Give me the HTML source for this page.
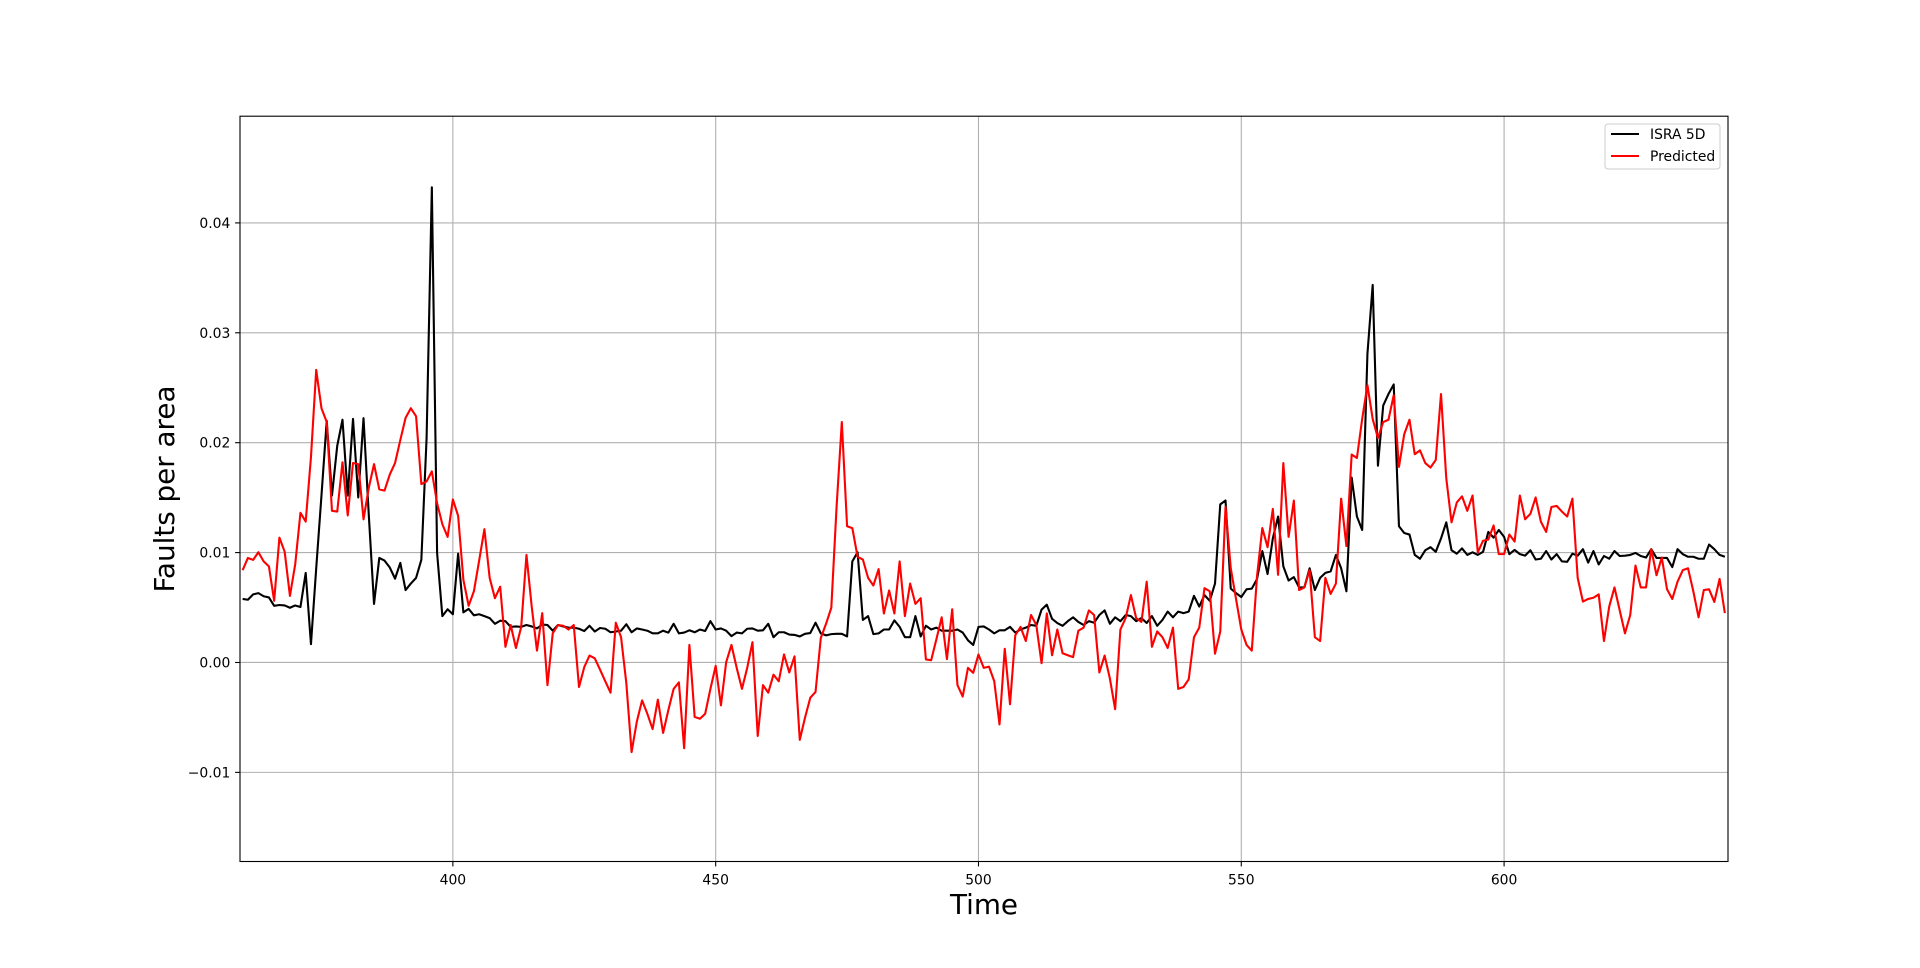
<!DOCTYPE html>
<html><head><meta charset="utf-8"><title>Faults per area</title>
<style>
html,body{margin:0;padding:0;background:#fff;}
svg{display:block;font-family:"DejaVu Sans","Liberation Sans",sans-serif;}
</style></head>
<body>
<svg id="chart" width="1920" height="968" viewBox="0 0 1920 968">
  <defs><clipPath id="plotclip"><rect x="240" y="116.2" width="1488" height="745.3"/></clipPath></defs>
  <rect x="0" y="0" width="1920" height="968" fill="#fff"/>
  <g id="grid"></g>
  <g id="series" clip-path="url(#plotclip)"></g>
  <rect x="240" y="116.2" width="1488" height="745.3" fill="none" stroke="#000" stroke-width="1.1"/>
  <g id="xticks"></g>
  <g id="yticks"></g>
  <text x="984" y="914" font-size="27.8" text-anchor="middle">Time</text>
  <text transform="translate(174,489) rotate(-90)" font-size="27.8" text-anchor="middle">Faults per area</text>
  <g>
    <rect x="1605" y="124" width="115" height="45" rx="3" fill="#fff" fill-opacity="0.8" stroke="#ccc" stroke-width="1"/>
    <line x1="1611" y1="134" x2="1639" y2="134" stroke="#000" stroke-width="2.1"/>
    <text x="1650" y="139" font-size="13.9">ISRA 5D</text>
    <line x1="1611" y1="156" x2="1639" y2="156" stroke="#ff0000" stroke-width="2.1"/>
    <text x="1650" y="161" font-size="13.9">Predicted</text>
  </g>
</svg>
<script>
const startTime = 360;
const xTicks = [400, 450, 500, 550, 600];
const yTicks = [-0.01, 0.00, 0.01, 0.02, 0.03, 0.04];
const yTickLabels = ["\u22120.01", "0.00", "0.01", "0.02", "0.03", "0.04"];
// values in units of 0.001
const israValues = [
5.78,5.71,6.20,6.31,6.03,5.92,5.16,5.23,5.19,4.98,5.19,5.05,8.15,1.67,8.57,15.19,21.99,15.19,19.72,22.09,
15.19,22.16,15.02,22.23,13.45,5.33,9.51,9.27,8.64,7.63,9.06,6.59,7.18,7.70,9.34,20.42,43.24,9.97,4.22,4.84,
4.39,9.90,4.56,4.88,4.29,4.39,4.22,4.04,3.52,3.80,3.76,3.24,3.28,3.24,3.41,3.28,3.10,3.45,3.41,2.89,
3.41,3.28,3.17,3.17,3.07,2.86,3.34,2.82,3.14,3.07,2.75,2.82,
2.89,3.48,2.75,3.10,3.00,2.89,2.65,2.65,2.89,2.72,3.52,2.65,2.72,2.93,2.75,3.00,2.86,3.76,3.00,3.10,
2.89,2.40,2.72,2.65,3.07,3.10,2.89,2.93,3.52,2.30,2.75,2.75,2.54,2.51,2.37,2.61,2.68,3.62,2.65,2.47,
2.58,2.61,2.61,2.37,9.20,10.03,3.87,4.22,2.58,2.65,3.00,3.00,3.83,3.24,2.30,2.30,4.22,2.37,3.34,3.00,
3.17,2.89,2.89,2.89,3.00,2.72,2.02,1.60,3.24,3.28,
3.00,2.65,2.93,2.93,3.24,2.72,3.00,3.17,3.41,3.34,4.81,5.26,3.97,3.59,3.34,3.76,4.11,3.69,3.41,3.76,
3.62,4.32,4.74,3.52,4.11,3.76,4.32,4.22,3.76,4.04,3.59,4.22,3.34,3.87,4.63,4.11,4.63,4.49,4.63,6.06,
5.09,6.13,5.61,7.18,14.39,14.74,6.72,6.31,5.96,6.66,6.72,7.60,10.14,8.05,11.29,13.28,8.75,7.46,7.77,6.83,
6.83,8.57,6.59,7.70,8.15,8.29,9.79,8.57,6.48,16.83,13.28,
12.06,28.08,34.36,17.91,23.38,24.43,25.30,12.40,11.78,11.64,9.79,9.44,10.21,10.49,10.07,11.29,12.75,10.21,9.90,10.38,
9.79,10.03,9.79,10.07,11.88,11.36,12.06,11.43,9.86,10.24,9.86,9.72,10.21,9.37,9.44,10.14,9.37,9.86,9.20,9.16,
9.90,9.72,10.31,9.09,10.14,8.92,9.69,9.44,10.14,9.69,9.72,9.79,9.97,9.69,9.55,10.31,9.51,9.51,9.51,8.68,
10.31,9.86,9.62,9.62,9.44,9.44,10.73,10.31,9.79,9.62];
const predictedValues = [
8.40,9.51,9.34,10.03,9.20,8.75,5.61,11.36,10.07,6.06,8.92,13.62,12.82,18.68,26.62,23.14,21.88,13.80,13.73,18.22,
13.38,18.15,18.05,13.03,15.89,18.05,15.75,15.64,17.11,18.15,20.24,22.26,23.14,22.40,16.24,16.48,17.39,14.49,12.58,11.43,
14.84,13.34,7.53,5.16,6.48,9.27,12.13,7.70,5.85,6.90,1.43,3.41,1.32,3.24,9.79,5.09,1.08,4.49,-2.06,2.65,
3.41,3.34,3.00,3.41,-2.23,-0.42,0.63,0.38,-0.66,-1.71,-2.75,3.62,
2.30,-1.88,-8.15,-5.37,-3.45,-4.67,-6.06,-3.38,-6.41,-4.32,-2.40,-1.81,-7.80,1.60,-4.95,-5.12,-4.67,-2.40,-0.31,-3.90,
0.03,1.60,-0.49,-2.40,-0.49,1.85,-6.69,-2.06,-2.75,-1.11,-1.71,0.73,-0.91,0.56,-7.04,-5.02,-3.21,-2.68,2.23,3.52,
4.98,14.15,21.88,12.40,12.23,9.62,9.37,7.70,7.00,8.50,4.46,6.55,4.46,9.20,4.22,7.18,5.33,5.85,0.28,0.21,
2.13,4.11,0.31,4.84,-2.06,-3.10,-0.49,-0.94,0.73,-0.49,
-0.38,-1.71,-5.64,1.25,-3.80,2.47,3.24,1.95,4.32,3.41,-0.07,4.46,0.66,3.00,0.84,0.66,0.49,2.89,3.17,4.74,
4.32,-0.91,0.63,-1.46,-4.25,3.00,4.04,6.13,4.04,3.69,7.35,1.43,2.82,2.30,1.32,3.17,-2.40,-2.23,-1.53,2.30,
3.17,6.76,6.48,0.80,2.82,14.15,8.57,5.78,3.00,1.60,1.08,7.87,12.23,10.49,13.97,7.98,18.15,11.43,14.74,6.59,
6.83,8.40,2.30,1.95,7.70,6.24,7.18,14.91,10.59,18.92,18.61,
22.16,25.23,22.16,20.42,21.88,22.09,24.32,17.80,20.77,22.09,18.95,19.30,18.15,17.74,18.43,24.43,16.76,12.75,14.56,15.12,
13.80,15.19,10.03,11.08,11.18,12.47,9.86,9.86,11.64,11.01,15.19,13.03,13.52,15.02,12.82,11.88,14.15,14.25,13.73,13.28,
14.91,7.70,5.54,5.78,5.89,6.20,1.95,5.09,6.83,4.74,2.65,4.32,8.82,6.83,6.83,10.31,7.94,9.55,6.66,5.78,
7.35,8.40,8.57,6.48,4.11,6.59,6.66,5.51,7.60,4.49];

const PL=240, PR=1728, PT=116.2, PB=861.5;
const XMIN=359.5, XMAX=642.6, YMIN=-0.01811, YMAX=0.04971;
function xScale(t){ return PL + (t - XMIN) / (XMAX - XMIN) * (PR - PL); }
function yScale(v){ return PB - (v - YMIN) / (YMAX - YMIN) * (PB - PT); }
const NS="http://www.w3.org/2000/svg";
function mk(tag, attrs, parent){ const e=document.createElementNS(NS,tag); for(const k in attrs) e.setAttribute(k,attrs[k]); parent.appendChild(e); return e; }

const grid=document.getElementById('grid');
const xt=document.getElementById('xticks');
const yt=document.getElementById('yticks');
xTicks.forEach(t=>{
  const x=xScale(t);
  const g=mk('line',{x1:x,y1:PT,x2:x,y2:PB,stroke:'#b0b0b0','stroke-width':1.1},grid);
  
  
  const tk=mk('line',{x1:x,y1:PB,x2:x,y2:PB+4.9,stroke:'#000','stroke-width':1.1},xt);
  
  
  const lb=mk('text',{x:x,y:PB+23,'font-size':13.9,'text-anchor':'middle'},xt);
  lb.textContent=String(t);
  
  
});
yTicks.forEach((v,i)=>{
  const y=yScale(v);
  const g=mk('line',{x1:PL,y1:y,x2:PR,y2:y,stroke:'#b0b0b0','stroke-width':1.1},grid);
  
  
  const tk=mk('line',{x1:PL-4.9,y1:y,x2:PL,y2:y,stroke:'#000','stroke-width':1.1},yt);
  
  
  const lb=mk('text',{x:PL-9.7,y:y+5,'font-size':13.9,'text-anchor':'end'},yt);
  lb.textContent=yTickLabels[i];
  
  
});
const series=document.getElementById('series');
function drawLine(vals,color,name){
  const pts=vals.map((v,i)=>xScale(startTime+i).toFixed(2)+','+yScale(v/1000).toFixed(2)).join(' ');
  const p=mk('polyline',{points:pts,fill:'none',stroke:color,'stroke-width':2.1,'stroke-linejoin':'round'},series);
  
  
}
drawLine(israValues,'#000000','isra-5d-line');
drawLine(predictedValues,'#ff0000','predicted-line');
</script>
</body></html>
